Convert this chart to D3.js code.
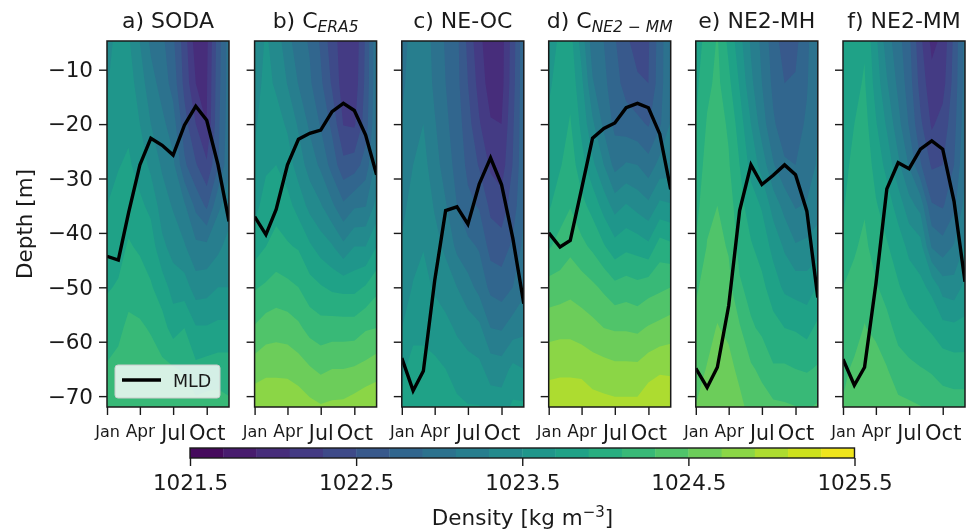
<!DOCTYPE html>
<html>
<head>
<meta charset="utf-8">
<script src="https://cdn.jsdelivr.net/npm/d3@7"></script>
<style>
html, body { margin: 0; padding: 0; background: #fff; }
svg { display: block; filter: blur(0.45px); }
text { font-family: "DejaVu Sans", sans-serif; fill: #1a1a1a; }
</style>
</head>
<body>
<svg id="chart" width="971" height="532"></svg>
<script>
const width = 971
const height = 532

// day of year of the first of each month, x position of every column
const monthDays = [0, 31, 59, 90, 120, 151, 181, 212, 243, 273, 304, 334]
const monthTicks = [0, 90, 181, 273]
const monthLabels = ["Jan", "Apr", "Jul", "Oct"]
const depthLevels = [-5, -12.5, -20, -27.5, -35, -42.5, -50, -57.5, -65, -72.5]
const depthTicks = [-10, -20, -30, -40, -50, -60, -70]
const colorTicks = [1021.5, 1022.5, 1023.5, 1024.5, 1025.5]
const densityLevels = d3.range(0, 21).map(k => +(1021.5 + k * 0.2).toFixed(1))

// density, one row per month (Jan..Dec), one value per depth level
const sodaDensity = [
  [1023.4, 1023.48, 1023.56, 1023.64, 1023.7, 1023.78, 1023.88, 1024.0, 1024.12, 1024.2],
  [1023.6, 1023.62, 1023.65, 1023.69, 1023.76, 1023.83, 1023.92, 1024.06, 1024.15, 1024.23],
  [1023.53, 1023.6, 1023.66, 1023.73, 1023.82, 1023.92, 1024.04, 1024.14, 1024.22, 1024.28],
  [1023.3, 1023.4, 1023.5, 1023.62, 1023.74, 1023.87, 1024.0, 1024.13, 1024.22, 1024.3],
  [1023.06, 1023.18, 1023.3, 1023.45, 1023.65, 1023.8, 1023.92, 1024.08, 1024.2, 1024.3],
  [1022.95, 1023.02, 1023.15, 1023.27, 1023.4, 1023.55, 1023.8, 1023.98, 1024.15, 1024.25],
  [1022.74, 1022.82, 1023.0, 1023.15, 1023.28, 1023.42, 1023.62, 1023.82, 1024.12, 1024.2],
  [1022.4, 1022.44, 1022.58, 1022.74, 1023.13, 1023.32, 1023.6, 1023.9, 1024.08, 1024.2],
  [1022.0, 1022.1, 1022.3, 1022.52, 1022.85, 1023.15, 1023.4, 1023.72, 1023.95, 1024.18],
  [1022.05, 1022.08, 1022.1, 1022.33, 1022.66, 1023.15, 1023.42, 1023.72, 1023.98, 1024.2],
  [1022.6, 1022.62, 1022.65, 1022.68, 1023.06, 1023.25, 1023.5, 1023.75, 1024.0, 1024.2],
  [1023.0, 1023.0, 1023.02, 1023.06, 1023.2, 1023.38, 1023.5, 1023.75, 1024.0, 1024.15]
]
const cEra5Density = [
  [1023.35, 1023.41, 1023.47, 1023.53, 1023.64, 1023.8, 1024.08, 1024.32, 1024.6, 1024.87],
  [1023.53, 1023.56, 1023.61, 1023.67, 1023.78, 1023.9, 1024.13, 1024.4, 1024.65, 1024.88],
  [1023.41, 1023.47, 1023.58, 1023.7, 1023.83, 1023.97, 1024.18, 1024.42, 1024.65, 1024.88],
  [1023.18, 1023.29, 1023.47, 1023.6, 1023.77, 1023.92, 1024.15, 1024.4, 1024.65, 1024.86],
  [1022.98, 1023.09, 1023.27, 1023.41, 1023.62, 1023.88, 1024.1, 1024.34, 1024.6, 1024.84],
  [1022.88, 1022.93, 1023.06, 1023.21, 1023.44, 1023.73, 1023.98, 1024.23, 1024.52, 1024.78],
  [1022.67, 1022.74, 1022.88, 1023.06, 1023.32, 1023.61, 1023.92, 1024.18, 1024.46, 1024.74],
  [1022.39, 1022.47, 1022.65, 1022.82, 1023.14, 1023.52, 1023.86, 1024.2, 1024.5, 1024.76],
  [1022.2, 1022.2, 1022.29, 1022.56, 1022.94, 1023.35, 1023.84, 1024.2, 1024.5, 1024.77],
  [1022.15, 1022.18, 1022.27, 1022.6, 1023.07, 1023.5, 1023.84, 1024.2, 1024.52, 1024.82],
  [1022.53, 1022.55, 1022.6, 1022.79, 1023.09, 1023.5, 1023.92, 1024.28, 1024.56, 1024.88],
  [1023.06, 1023.06, 1023.09, 1023.17, 1023.37, 1023.7, 1024.05, 1024.3, 1024.62, 1024.88]
]
const neOcDensity = [
  [1023.0, 1023.05, 1023.12, 1023.18, 1023.25, 1023.32, 1023.42, 1023.5, 1023.66, 1023.75],
  [1023.2, 1023.22, 1023.26, 1023.3, 1023.37, 1023.45, 1023.51, 1023.64, 1023.78, 1023.84],
  [1023.25, 1023.27, 1023.3, 1023.36, 1023.43, 1023.49, 1023.57, 1023.67, 1023.74, 1023.8],
  [1023.02, 1023.05, 1023.12, 1023.2, 1023.28, 1023.37, 1023.47, 1023.62, 1023.74, 1023.82],
  [1022.88, 1022.9, 1022.94, 1022.99, 1023.12, 1023.26, 1023.4, 1023.56, 1023.7, 1023.8],
  [1022.75, 1022.76, 1022.8, 1022.84, 1022.9, 1023.05, 1023.3, 1023.47, 1023.62, 1023.75],
  [1022.45, 1022.5, 1022.58, 1022.65, 1022.75, 1022.95, 1023.18, 1023.4, 1023.58, 1023.72],
  [1022.15, 1022.22, 1022.32, 1022.48, 1022.68, 1022.88, 1023.03, 1023.35, 1023.55, 1023.72],
  [1021.98, 1022.0, 1022.12, 1022.26, 1022.45, 1022.62, 1022.85, 1023.1, 1023.42, 1023.62],
  [1022.02, 1022.03, 1022.1, 1022.2, 1022.38, 1022.6, 1022.8, 1023.08, 1023.4, 1023.62],
  [1022.4, 1022.42, 1022.47, 1022.51, 1022.6, 1022.74, 1022.9, 1023.2, 1023.55, 1023.75],
  [1022.85, 1022.85, 1022.85, 1022.86, 1022.88, 1022.95, 1023.05, 1023.25, 1023.5, 1023.75]
]
const cNe2Density = [
  [1023.65, 1023.68, 1023.72, 1023.78, 1023.87, 1024.08, 1024.38, 1024.62, 1024.85, 1025.03],
  [1023.72, 1023.75, 1023.8, 1023.88, 1024.02, 1024.16, 1024.4, 1024.64, 1024.86, 1025.05],
  [1023.78, 1023.84, 1023.92, 1024.01, 1024.09, 1024.25, 1024.44, 1024.64, 1024.86, 1025.05],
  [1023.42, 1023.55, 1023.65, 1023.78, 1023.96, 1024.15, 1024.4, 1024.6, 1024.85, 1025.05],
  [1023.0, 1023.12, 1023.34, 1023.55, 1023.83, 1024.06, 1024.34, 1024.56, 1024.8, 1025.0],
  [1022.9, 1022.95, 1023.05, 1023.3, 1023.62, 1023.92, 1024.26, 1024.5, 1024.78, 1024.98],
  [1022.72, 1022.78, 1022.85, 1023.03, 1023.42, 1023.78, 1024.16, 1024.48, 1024.75, 1024.97],
  [1022.55, 1022.62, 1022.8, 1023.12, 1023.52, 1023.85, 1024.2, 1024.48, 1024.75, 1024.97],
  [1022.4, 1022.54, 1022.75, 1023.1, 1023.43, 1023.82, 1024.16, 1024.46, 1024.75, 1024.97],
  [1022.48, 1022.5, 1022.68, 1022.98, 1023.35, 1023.75, 1024.22, 1024.52, 1024.82, 1025.06],
  [1022.8, 1022.81, 1022.87, 1023.17, 1023.55, 1024.0, 1024.26, 1024.56, 1024.87, 1025.08],
  [1023.1, 1023.1, 1023.12, 1023.2, 1023.52, 1023.95, 1024.3, 1024.6, 1024.86, 1025.08]
]
const ne2MhDensity = [
  [1023.8, 1023.85, 1023.9, 1023.97, 1024.03, 1024.12, 1024.27, 1024.36, 1024.43, 1024.51],
  [1023.98, 1024.05, 1024.12, 1024.18, 1024.25, 1024.31, 1024.38, 1024.44, 1024.51, 1024.58],
  [1024.12, 1024.15, 1024.19, 1024.24, 1024.3, 1024.36, 1024.43, 1024.51, 1024.58, 1024.62],
  [1023.85, 1023.95, 1024.07, 1024.12, 1024.2, 1024.28, 1024.36, 1024.46, 1024.56, 1024.62],
  [1023.58, 1023.68, 1023.8, 1023.9, 1023.97, 1024.03, 1024.13, 1024.32, 1024.45, 1024.56],
  [1023.27, 1023.35, 1023.5, 1023.63, 1023.8, 1023.92, 1024.03, 1024.13, 1024.33, 1024.44],
  [1023.05, 1023.1, 1023.2, 1023.42, 1023.68, 1023.82, 1023.95, 1024.06, 1024.25, 1024.4],
  [1022.8, 1022.85, 1022.93, 1023.12, 1023.42, 1023.64, 1023.8, 1023.97, 1024.12, 1024.36],
  [1022.6, 1022.7, 1022.78, 1022.93, 1023.23, 1023.47, 1023.66, 1023.9, 1024.13, 1024.34],
  [1022.65, 1022.72, 1022.82, 1022.9, 1023.08, 1023.32, 1023.62, 1023.88, 1024.1, 1024.32],
  [1022.85, 1022.88, 1022.93, 1022.98, 1023.12, 1023.35, 1023.6, 1023.83, 1024.08, 1024.29],
  [1023.1, 1023.1, 1023.1, 1023.13, 1023.22, 1023.4, 1023.72, 1023.95, 1024.12, 1024.34]
]
const ne2MmDensity = [
  [1023.7, 1023.75, 1023.78, 1023.83, 1023.88, 1023.93, 1024.1, 1024.18, 1024.26, 1024.32],
  [1023.8, 1023.85, 1023.9, 1023.96, 1024.02, 1024.08, 1024.15, 1024.23, 1024.33, 1024.4],
  [1023.88, 1023.92, 1023.98, 1024.04, 1024.08, 1024.14, 1024.23, 1024.31, 1024.4, 1024.46],
  [1023.55, 1023.62, 1023.72, 1023.82, 1023.92, 1024.02, 1024.12, 1024.25, 1024.4, 1024.48],
  [1023.2, 1023.32, 1023.47, 1023.64, 1023.8, 1023.92, 1024.03, 1024.16, 1024.31, 1024.42],
  [1022.98, 1023.05, 1023.17, 1023.35, 1023.62, 1023.8, 1023.92, 1024.04, 1024.18, 1024.37],
  [1022.75, 1022.8, 1022.88, 1023.08, 1023.38, 1023.65, 1023.81, 1023.99, 1024.14, 1024.35],
  [1022.35, 1022.42, 1022.54, 1022.72, 1023.23, 1023.58, 1023.75, 1023.93, 1024.11, 1024.32],
  [1022.05, 1022.17, 1022.27, 1022.47, 1022.72, 1023.08, 1023.65, 1023.87, 1024.08, 1024.23],
  [1022.15, 1022.22, 1022.38, 1022.5, 1022.68, 1022.98, 1023.42, 1023.77, 1024.03, 1024.2],
  [1022.55, 1022.58, 1022.63, 1022.7, 1022.85, 1023.12, 1023.38, 1023.75, 1024.0, 1024.2],
  [1022.98, 1022.98, 1023.02, 1023.08, 1023.17, 1023.32, 1023.56, 1023.76, 1024.0, 1024.2]
]

// mixed layer depth per month
const sodaMld = [-44.3, -45, -36.3, -27.5, -22.6, -23.9, -25.7, -20.2, -16.7, -19.3, -27.5, -37.9]
const cEra5Mld = [-37, -40.3, -35.7, -27.5, -22.8, -21.7, -21.1, -17.7, -16.2, -17.5, -22, -29.3]
const neOcMld = [-63, -69, -65.4, -48.8, -35.9, -35.2, -38.4, -31, -26.2, -31.1, -41, -53]
const cNe2Mld = [-40, -42.6, -41.4, -31.9, -22.6, -20.8, -19.8, -17, -16.2, -17, -21.8, -32]
const ne2MhMld = [-64.9, -68.4, -64.7, -53.4, -35.9, -27.5, -31.1, -29.4, -27.5, -29.3, -36, -51.9]
const ne2MmMld = [-63.2, -68, -64.7, -49.4, -31.9, -27.1, -28.2, -24.6, -23.1, -24.6, -34.2, -49]

// left edge of the panels in px, and title parts [plain text, subscript]
const panelLeft = [107, 254.6, 401.8, 548.7, 695.8, 843]
const panelTitles = [["a) SODA", ""], ["b) C", "ERA5"], ["c) NE-OC", ""], ["d) C", "NE2 \u2212 MM"], ["e) NE2-MH", ""], ["f) NE2-MM", ""]]
const panelDensity = [sodaDensity, cEra5Density, neOcDensity, cNe2Density, ne2MhDensity, ne2MmDensity]
const panelMld = [sodaMld, cEra5Mld, neOcMld, cNe2Mld, ne2MhMld, ne2MmMld]

const panelW = 122
const panelTop = 41
const panelBottom = 407
const monthFonts = { Jan: 16, Apr: 17, Jul: 20.5, Oct: 21 }

const svg = d3.select("#chart")

const color = d3.scaleThreshold()
    .domain(densityLevels.slice(1, -1))
    .range(densityLevels.slice(0, -1).map((d, k) => d3.interpolateViridis((k + 0.5) / 20)))

const y = d3.scaleLinear().domain([-5, -72]).range([panelTop + 1.5, panelBottom])

// grid index to data coordinate, running past the ends so the clip can cut them
const monthAt = d3.scaleLinear().domain(d3.range(monthDays.length)).range(monthDays)
const depthAt = d3.scaleLinear().domain(d3.range(depthLevels.length)).range(depthLevels)

const contours = d3.contours()
    .size([monthDays.length, depthLevels.length])
    .thresholds(densityLevels.slice(0, -1))

panelLeft.forEach(function (left, p) {
    const x = d3.scaleLinear().domain([0, 334]).range([left, left + panelW])
    const g = svg.append("g")

    g.append("clipPath").attr("id", "clip" + p)
        .append("rect")
        .attr("x", left).attr("y", panelTop)
        .attr("width", panelW).attr("height", panelBottom - panelTop)

    const path = d3.geoPath(d3.geoTransform({
        point: function (gx, gy) {
            this.stream.point(x(monthAt(gx - 0.5)), y(depthAt(gy - 0.5)))
        }
    }))

    // d3.contours wants the values row by row, top depth first
    const values = []
    depthLevels.forEach((d, j) => monthDays.forEach((m, i) => values.push(panelDensity[p][i][j])))

    g.append("g").attr("clip-path", "url(#clip" + p + ")")
        .selectAll("path")
        .data(contours(values))
        .enter()
        .append("path")
        .attr("d", path)
        .attr("fill", d => color(d.value))

    const line = d3.line()
        .x((d, i) => x(monthDays[i]))
        .y(d => y(d))

    g.append("path")
        .attr("clip-path", "url(#clip" + p + ")")
        .attr("d", line(panelMld[p]))
        .attr("fill", "none")
        .attr("stroke", "#000")
        .attr("stroke-width", 3.4)
        .attr("stroke-linejoin", "miter")

    // axes
    const xAxis = d3.axisBottom(x).tickValues(monthTicks).tickSize(8).tickSizeOuter(0)
        .tickFormat((d, i) => monthLabels[i])
    const gx = g.append("g").attr("transform", "translate(0," + panelBottom + ")").call(xAxis)
    gx.select(".domain").remove()
    gx.selectAll("line").attr("stroke", "#1a1a1a").attr("stroke-width", 1.4)
    gx.selectAll("text")
        .attr("y", 0)
        .attr("dy", null)
        .attr("transform", d => "translate(0," + (d < 120 ? 30 : 33) + ")")
        .style("font-size", (d, i) => monthFonts[monthLabels[i]] + "px")
        .style("fill", "#1a1a1a")

    const yAxis = d3.axisLeft(y).tickValues(depthTicks).tickSize(8).tickSizeOuter(0)
    if (p > 0) yAxis.tickFormat("")
    const gy = g.append("g").attr("transform", "translate(" + left + ",0)").call(yAxis)
    gy.select(".domain").remove()
    gy.selectAll("line").attr("stroke", "#1a1a1a").attr("stroke-width", 1.4)
    gy.selectAll("text").style("font-size", "21.5px").attr("x", -14).style("fill", "#1a1a1a")

    g.append("rect")
        .attr("x", left).attr("y", panelTop)
        .attr("width", panelW).attr("height", panelBottom - panelTop)
        .attr("fill", "none")
        .attr("stroke", "#1a1a1a")
        .attr("stroke-width", 1.5)

    const title = g.append("text")
        .attr("x", left + panelW / 2)
        .attr("y", 28)
        .attr("text-anchor", "middle")
        .style("font-size", "22px")
        .text(panelTitles[p][0])
    if (panelTitles[p][1]) {
        title.append("tspan")
            .attr("dy", 3.5)
            .style("font-size", "15.5px")
            .style("font-style", "italic")
            .text(panelTitles[p][1])
    }
})

// legend in the first panel
const legend = svg.append("g")
legend.append("rect")
    .attr("x", 115).attr("y", 365)
    .attr("width", 105).attr("height", 33)
    .attr("rx", 3)
    .attr("fill", "#fff").attr("fill-opacity", 0.8)
    .attr("stroke", "#ccc")
legend.append("line")
    .attr("x1", 122).attr("x2", 161)
    .attr("y1", 380).attr("y2", 380)
    .attr("stroke", "#000")
    .attr("stroke-width", 3.4)
legend.append("text")
    .attr("x", 173).attr("y", 387)
    .style("font-size", "17.5px")
    .text("MLD")

// colour bar
const barX = d3.scaleLinear().domain([1021.5, 1025.5]).range([190, 854.5])
const barY = 448
const barH = 10
svg.append("g").selectAll("rect")
    .data(densityLevels.slice(0, -1))
    .enter()
    .append("rect")
    .attr("x", d => barX(d))
    .attr("y", barY)
    .attr("width", d => barX(d + 0.2) - barX(d) + 0.4)
    .attr("height", barH)
    .attr("fill", d => color(d + 0.01))
svg.append("rect")
    .attr("x", barX.range()[0]).attr("y", barY)
    .attr("width", barX.range()[1] - barX.range()[0]).attr("height", barH)
    .attr("fill", "none")
    .attr("stroke", "#1a1a1a")
    .attr("stroke-width", 1.4)

const barAxis = d3.axisBottom(barX).tickValues(colorTicks).tickSize(8).tickSizeOuter(0)
    .tickFormat(d3.format(".1f"))
const gbar = svg.append("g").attr("transform", "translate(0," + (barY + barH) + ")").call(barAxis)
gbar.select(".domain").remove()
gbar.selectAll("line").attr("stroke", "#1a1a1a").attr("stroke-width", 1.4)
gbar.selectAll("text").style("font-size", "21.5px").attr("y", 17).style("fill", "#1a1a1a")

const barLabel = svg.append("text")
    .attr("x", 522.5).attr("y", 525)
    .attr("text-anchor", "middle")
    .style("font-size", "21.5px")
barLabel.append("tspan").text("Density [kg m")
barLabel.append("tspan").attr("dy", -8).style("font-size", "15px").text("\u22123")
barLabel.append("tspan").attr("dy", 8).text("]")

svg.append("text")
    .attr("transform", "translate(32,224) rotate(-90)")
    .attr("text-anchor", "middle")
    .style("font-size", "21.5px")
    .text("Depth [m]")
</script>
</body>
</html>
